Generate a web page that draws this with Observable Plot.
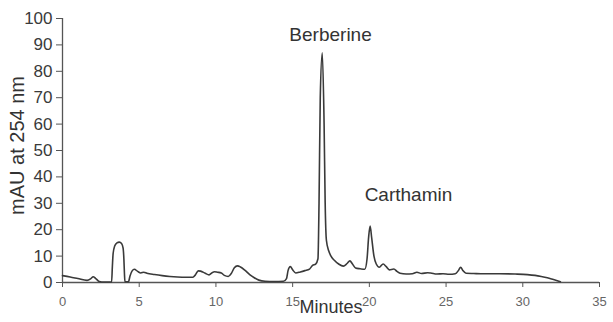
<!DOCTYPE html>
<html>
<head>
<meta charset="utf-8">
<script src="https://cdn.jsdelivr.net/npm/d3@7"></script>
<script src="https://cdn.jsdelivr.net/npm/@observablehq/plot@0.6"></script>
<style>
  html, body { margin: 0; padding: 0; background: #fff; }
  #chart svg { display: block; }
  g[aria-label="x-axis tick label"] text { fill: #666; }
  g[aria-label="y-axis tick label"] text { fill: #3a3a3a; }
</style>
</head>
<body>
<div id="chart"></div>
<script>
// Retention time (minutes) and absorbance (mAU at 254 nm)
const times = [
  0, 0.5, 1.0, 1.6, 1.85, 2.0, 2.15, 2.4, 2.7, 3.2,
  3.25, 3.3, 3.4, 3.55, 3.7, 3.85, 3.95, 4.0, 4.04, 4.07, 4.3,
  4.4, 4.55, 4.68, 4.9, 5.1, 5.3, 5.5, 6.0, 6.5, 7.0,
  7.5, 8.0, 8.5, 8.65, 8.85, 9.0, 9.3, 9.55, 9.75, 9.9,
  10.1, 10.35, 10.55, 10.8, 11.0, 11.2, 11.4, 11.6, 11.9, 12.2,
  12.5, 12.8, 13.2, 13.8, 14.4, 14.6, 14.7, 14.85, 15.0, 15.2,
  15.5, 15.8, 16.1, 16.3, 16.5, 16.65, 16.72, 16.8, 16.93, 17.05,
  17.12, 17.2, 17.35, 17.5, 17.7, 18.0, 18.3, 18.55, 18.73, 18.9,
  19.1, 19.4, 19.7, 19.85, 19.95, 20.05, 20.15, 20.3, 20.45, 20.65,
  20.9, 21.1, 21.3, 21.6, 21.8, 22.0, 22.4, 22.8, 23.1, 23.4,
  23.8, 24.0, 24.4, 24.8, 25.2, 25.6, 25.8, 25.95, 26.1, 26.3,
  26.8, 27.5, 28.5, 29.5, 30.3, 30.8, 31.2, 31.6, 32.0, 32.45
];
const mau = [
  2.6, 2.1, 1.5, 0.8, 1.5, 2.2, 1.6, 0.4, 0.2, 0.2,
  6, 11, 13.8, 15.0, 15.3, 14.8, 13, 9, 3, 0.3, 0.3,
  2.5, 4.5, 5.0, 4.2, 3.6, 3.9, 3.5, 3.0, 2.6, 2.3,
  2.1, 2.0, 2.0, 2.8, 4.4, 4.3, 3.5, 2.9, 3.7, 4.1,
  3.9, 3.6, 2.7, 2.3, 3.4, 5.6, 6.3, 5.9, 4.6, 3.0,
  1.8, 0.9, 0.5, 0.4, 0.5, 1.5, 4.5, 6.0, 4.8, 3.6,
  4.0, 4.5, 5.1, 6.5, 7.0, 9.0, 30, 70, 87, 60,
  30, 16, 12, 10, 8.5, 7.0, 6.2, 7.2, 8.2, 7.0,
  5.5, 5.2, 5.0, 9, 17, 21.4, 17, 10, 7.0, 5.8,
  7.0, 6.0, 4.8, 5.1, 4.2, 3.5, 3.2, 3.3, 3.9, 3.4,
  3.7, 3.6, 3.2, 3.3, 3.1, 3.3, 4.5, 5.8, 4.5, 3.5,
  3.4, 3.3, 3.3, 3.2, 3.0, 2.7, 2.3, 1.8, 1.1, 0.3
];

const xTicks = [0, 5, 10, 15, 20, 25, 30, 35];
const yTicks = [0, 10, 20, 30, 40, 50, 60, 70, 80, 90, 100];

const peakNames = ["Berberine", "Carthamin"];
const peakLabelX = [17.47, 22.55];
const peakLabelY = [91.4, 30.7];

const xTitle = "Minutes";
const yTitle = "mAU at 254 nm";

const series = times.map((t, i) => ({t, v: mau[i]}));
const peaks = peakNames.map((name, i) => ({name, x: peakLabelX[i], y: peakLabelY[i]}));

const chart = Plot.plot({
  width: 613,
  height: 322,
  marginLeft: 62,
  marginRight: 14,
  marginTop: 18,
  marginBottom: 40,
  style: {fontFamily: "'Liberation Sans', Arial, sans-serif", background: "#fff", overflow: "visible"},
  x: {domain: [0, 35]},
  y: {domain: [0, 100]},
  marks: [
    Plot.axisX({ticks: xTicks, tickSize: 5, tickPadding: 9, fontSize: 13, stroke: "#555", label: null}),
    Plot.axisY({ticks: yTicks, tickSize: 6, tickPadding: 4, fontSize: 17, stroke: "#555", label: null}),
    Plot.ruleX([0], {stroke: "#555", strokeWidth: 1.3}),
    Plot.ruleY([0], {stroke: "#555", strokeWidth: 1.3}),
    Plot.line(series, {x: "t", y: "v", curve: "monotone-x", stroke: "#3a3a3a", strokeWidth: 1.6}),
    Plot.text(peaks, {x: "x", y: "y", text: "name", fontSize: 19, fill: "#333", lineAnchor: "bottom", textAnchor: "middle"}),
    Plot.text([xTitle], {frameAnchor: "bottom", dy: 30, lineAnchor: "bottom", fontSize: 18, fill: "#333"}),
    Plot.text([yTitle], {frameAnchor: "left", dx: -44.5, dy: -5, rotate: -90, lineAnchor: "middle", textAnchor: "middle", fontSize: 20, fill: "#333"})
  ]
});
document.getElementById("chart").appendChild(chart);
</script>
</body>
</html>
